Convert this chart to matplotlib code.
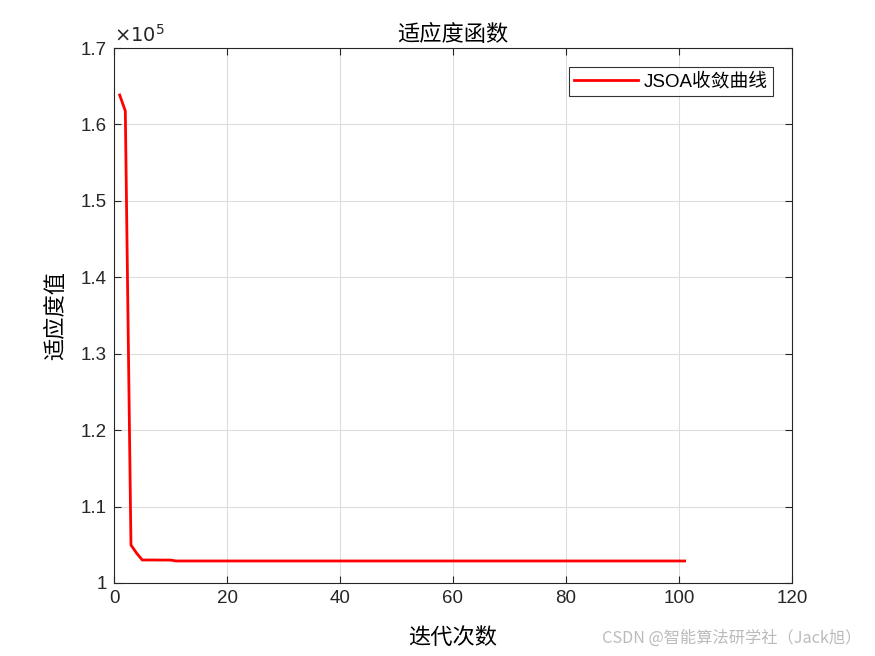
import numpy as np
import matplotlib.pyplot as plt
from matplotlib.ticker import FuncFormatter

plt.rcParams['font.family'] = ['Liberation Sans', 'Noto Sans CJK SC', 'DejaVu Sans']

# JSOA convergence curve (fitness per iteration)
head = [1.6385e5, 1.6176e5, 1.0497e5, 1.0390e5, 1.0301e5,
        1.0301e5, 1.0301e5, 1.0300e5, 1.0300e5, 1.0300e5]
tail = [1.0288e5] * 91
fitness = np.array(head + tail)
iters = np.arange(1, len(fitness) + 1)

xticks = [0, 20, 40, 60, 80, 100, 120]
yticks = [1.0e5, 1.1e5, 1.2e5, 1.3e5, 1.4e5, 1.5e5, 1.6e5, 1.7e5]


def main():
    fig = plt.figure(figsize=(8.75, 6.56), dpi=100)
    ax = fig.add_axes([0.1303, 0.1113, 0.7748, 0.8155])

    ax.plot(iters, fitness, color='red', lw=2, label='JSOA收敛曲线')

    ax.set_xlim(0, 120)
    ax.set_ylim(1.0e5, 1.7e5)
    ax.set_xticks(xticks)
    ax.set_yticks(yticks)
    ax.yaxis.set_major_formatter(FuncFormatter(lambda v, p: '%g' % round(v / 1e5, 2)))
    ax.tick_params(direction='in', top=True, right=True, labelsize=13.5,
                   length=5, width=0.8, colors='#262626', pad=5)
    ax.grid(True, color='#dddddd', lw=0.8)
    for s in ax.spines.values():
        s.set_color('#262626')
        s.set_linewidth(0.8)

    ax.text(0, 1.004, r'$\times 10^{5}$', transform=ax.transAxes,
            fontsize=14, color='#262626', ha='left', va='bottom')
    ax.set_title('适应度函数', fontsize=16, family=['Noto Sans CJK SC'], pad=5)
    ax.set_xlabel('迭代次数', fontsize=16, family=['Noto Sans CJK SC'], labelpad=14)
    ax.set_ylabel('适应度值', fontsize=16, family=['Noto Sans CJK SC'], labelpad=10)

    leg = ax.legend(loc='upper right', fancybox=False, edgecolor='black',
                    handlelength=3.4, handletextpad=0.3, borderpad=0.3,
                    borderaxespad=1.0,
                    prop={'family': ['Liberation Sans', 'Noto Sans CJK SC'], 'size': 13.5})
    leg.get_frame().set_linewidth(0.8)

    fig.text(0.985, 0.0274, 'CSDN @智能算法研学社（Jack旭）', ha='right', va='center',
             fontsize=11.7, color='#bbbbbb', family=['Noto Sans CJK SC'])

    fig.savefig('out.png', dpi=100)


if __name__ == "__main__":
    main()
